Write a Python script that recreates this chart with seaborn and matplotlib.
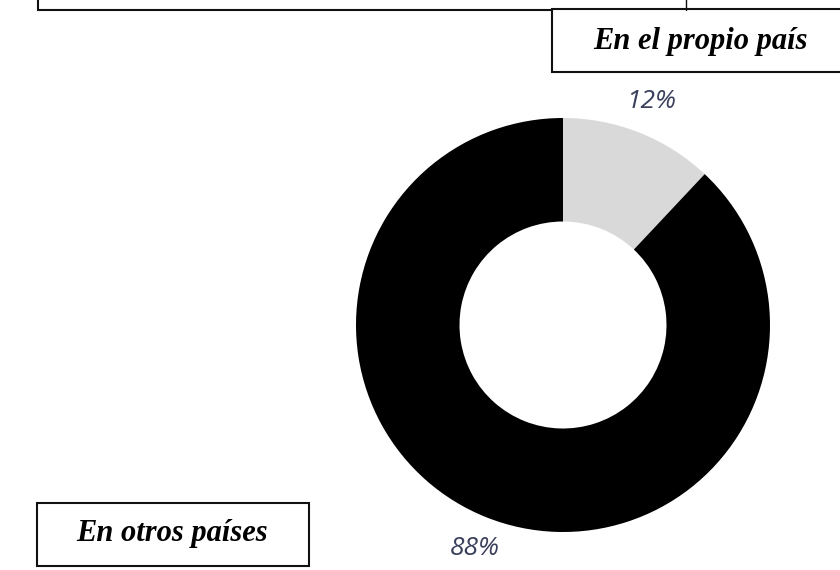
import matplotlib
matplotlib.use("Agg")
import matplotlib.pyplot as plt
from matplotlib.patches import Rectangle
import seaborn as sns

# Data
categories = ["En el propio país", "En otros países"]
values = [12, 88]
slice_colors = ["#d9d9d9", "#000000"]
box_labels = ["En el propio país", "En otros países"]

sns.set_theme(style="white")
plt.rcParams["font.family"] = ["DejaVu Sans"]

W, H = 840, 570
fig = plt.figure(figsize=(W / 100, H / 100), dpi=100)
fig.patch.set_facecolor("white")

# Donut axes
cx, cy, R = 563, 325, 207
ax = fig.add_axes([(cx - R) / W, (H - cy - R) / H, 2 * R / W, 2 * R / H])
wedges, texts, autotexts = ax.pie(
    values,
    colors=sns.color_palette(slice_colors),
    startangle=90,
    counterclock=False,
    radius=1.0,
    wedgeprops=dict(width=0.5, linewidth=0),
    autopct=lambda p: f"{p:.0f}%",
    pctdistance=1.16,
)
for t in autotexts:
    t.set_color("#3a3f5c")
    t.set_fontsize(19)
    t.set_fontstyle("italic")
    t.set_fontweight("normal")
    t.set_family(["Open Sans", "DejaVu Sans"])
ax.set_xlim(-1, 1)
ax.set_ylim(-1, 1)
ax.set_aspect("equal")
ax.axis("off")

# Overlay axes in pixel coordinates for the boxes
ov = fig.add_axes([0, 0, 1, 1], facecolor="none")
ov.set_xlim(0, W)
ov.set_ylim(H, 0)
ov.axis("off")

lw = 1.5
ov.add_patch(Rectangle((38, -20), 900, 30, fill=False, edgecolor="#111111", lw=lw))
ov.plot([686, 686], [-5, 10], color="#111111", lw=1.0)
ov.add_patch(Rectangle((552, 9), 400, 63, facecolor="white", edgecolor="#111111", lw=lw))
ov.add_patch(Rectangle((37, 503), 272, 63, facecolor="white", edgecolor="#111111", lw=lw))

serif = ["Liberation Serif", "DejaVu Serif"]
ov.text(700, 42, box_labels[0], ha="center", va="center", fontsize=22,
        fontweight="bold", fontstyle="italic", family=serif, color="black")
ov.text(172, 533, box_labels[1], ha="center", va="center", fontsize=22,
        fontweight="bold", fontstyle="italic", family=serif, color="black")

fig.savefig("out.png", dpi=100, facecolor="white")
